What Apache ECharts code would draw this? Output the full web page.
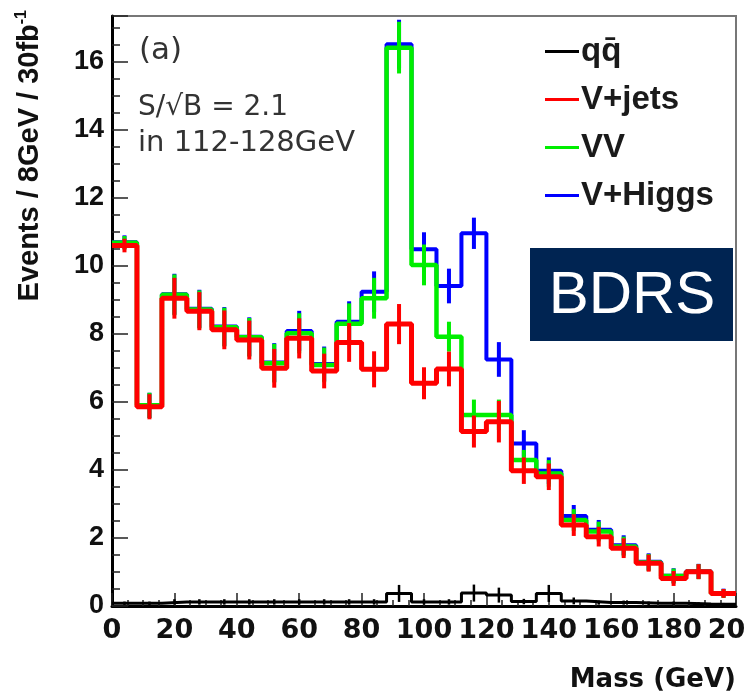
<!DOCTYPE html>
<html><head><meta charset="utf-8">
<script src="https://cdn.jsdelivr.net/npm/echarts@6/dist/echarts.min.js"></script>
<style>html,body{margin:0;padding:0;background:#fff}#c{width:744px;height:691px}</style>
</head><body><div id="c"></div>
<script>
// bin edges (GeV) and bin centres
const binEdges = [0,8,16,24,32,40,48,56,64,72,80,88,96,104,112,120,128,136,144,152,160,168,176,184,192,200];
const binCenters = [4,12,20,28,36,44,52,60,68,76,84,92,100,108,116,124,132,140,148,156,164,172,180,188,196];
// stacked levels per bin (Events / 8GeV / 30fb-1)
const qqVals    = [0.08,0.08,0.12,0.12,0.12,0.12,0.12,0.12,0.12,0.12,0.12,0.37,0.12,0.12,0.38,0.32,0.13,0.37,0.15,0.10,0.10,0.08,0.08,0.06,0.05];
const qqErr     = [0.05,0.05,0.08,0.08,0.08,0.08,0.08,0.08,0.08,0.08,0.08,0.25,0.08,0.08,0.25,0.22,0.08,0.25,0.1,0.06,0.06,0.05,0.05,0.05,0.04];
const vjetsVals = [10.6,5.86,9.05,8.67,8.12,7.82,6.99,7.87,6.91,7.75,6.96,8.29,6.55,6.97,5.13,5.42,3.98,3.80,2.38,2.04,1.70,1.26,0.81,1.01,0.37];
const vjetsErr  = [0.2,0.37,0.6,0.56,0.57,0.57,0.57,0.59,0.51,0.57,0.53,0.59,0.47,0.51,0.47,0.61,0.39,0.39,0.32,0.29,0.29,0.25,0.22,0.22,0.13];
const vvVals    = [10.68,5.9,9.15,8.72,8.2,7.9,7.14,8.02,7.09,8.3,9.05,16.42,10.03,7.92,5.62,5.62,4.29,3.9,2.53,2.19,1.75,1.28,0.88,1.01,0.37];
const vvErr     = [0.2,0.37,0.6,0.56,0.57,0.57,0.57,0.59,0.51,0.6,0.6,0.76,0.6,0.44,0.45,0.45,0.3,0.39,0.32,0.29,0.29,0.25,0.22,0.22,0.13];
const vhVals    = [10.7,5.9,9.17,8.74,8.22,7.92,7.16,8.09,7.12,8.36,9.24,16.52,10.49,9.41,10.96,7.25,4.78,3.98,2.65,2.24,1.79,1.3,0.89,1.02,0.38];
const vhErr     = [0.2,0.37,0.6,0.56,0.57,0.57,0.57,0.59,0.51,0.6,0.6,0.72,0.5,0.51,0.46,0.51,0.39,0.39,0.32,0.29,0.29,0.25,0.22,0.22,0.13];
const names = ['qq\u0304','V+jets','VV','V+Higgs'];
const colors = ['#000000','#ff0000','#00ee00','#0000ff'];

const FONT = 'Liberation Sans, Arial, sans-serif';
const WIDE = 'DejaVu Sans, sans-serif';
function stepData(vals){
  const d = vals.map((v,i)=>[binEdges[i], v]);
  d.push([binEdges[binEdges.length-1], vals[vals.length-1]]);
  return d;
}
function errData(vals, errs){ return vals.map((v,i)=>[binCenters[i], v, errs[i]]); }
function histSeries(name, vals, color, width, z){
  return {name, type:'line', step:'end', data: stepData(vals), symbol:'none', z,
    lineStyle:{color, width}, itemStyle:{color}};
}
function errSeries(vals, errs, color, width, z){
  return {type:'custom', z, data: errData(vals, errs), encode:{x:0,y:1}, clip:true,
    renderItem:function(params, api){
      const x=api.value(0), y=api.value(1), e=api.value(2);
      const p1=api.coord([x,y-e]), p2=api.coord([x,y+e]);
      return {type:'line', shape:{x1:p1[0],y1:p1[1],x2:p2[0],y2:p2[1]}, style:{stroke:color, lineWidth:width}};
    }};
}

const chart = echarts.init(document.getElementById('c'));
chart.setOption({
  animation:false,
  backgroundColor:'#fff',
  grid:{left:112, right:8, top:16, bottom:85, show:true, borderColor:'#777', borderWidth:2,
    containLabel:false, outerBoundsMode:'none'},
  xAxis:{type:'value', min:0, max:200, interval:20,
    axisLine:{lineStyle:{color:'#000', width:3}},
    axisTick:{inside:true, length:13, lineStyle:{color:'#222', width:1.5}},
    minorTick:{show:true, splitNumber:4, length:6, lineStyle:{color:'#222', width:1.5}},
    splitLine:{show:false},
    axisLabel:{fontSize:27, fontWeight:'bold', color:'#111', fontFamily:WIDE, margin:11, hideOverlap:false}},
  yAxis:{type:'value', min:0, max:17.35, interval:2,
    axisLine:{lineStyle:{color:'#000', width:3}},
    axisTick:{inside:true, length:16, lineStyle:{color:'#222', width:1.5}},
    minorTick:{show:true, splitNumber:4, length:8, lineStyle:{color:'#222', width:1.5}},
    splitLine:{show:false},
    axisLabel:{fontSize:27, fontWeight:'bold', color:'#111', fontFamily:FONT, margin:8,
      formatter:function(v){ return (Math.abs(v/2 - Math.round(v/2))<1e-6) ? String(v) : ''; }}},
  legend:{orient:'vertical', left:540, top:30, itemWidth:34, itemHeight:3, icon:'rect', itemGap:15,
    textStyle:{fontSize:33, fontWeight:'bold', color:'#1a1a1a', fontFamily:FONT, padding:[0,0,0,-3]},
    data:names},
  series:[
    histSeries(names[3], vhVals, colors[3], 4, 1),
    errSeries(vhVals, vhErr, colors[3], 4, 1),
    histSeries(names[2], vvVals, colors[2], 4.5, 2),
    errSeries(vvVals, vvErr, colors[2], 4, 2),
    histSeries(names[1], vjetsVals, colors[1], 5, 3),
    errSeries(vjetsVals, vjetsErr, colors[1], 4, 3),
    histSeries(names[0], qqVals, colors[0], 3, 4),
    errSeries(qqVals, qqErr, colors[0], 2.5, 4)
  ],
  graphic:[
    {type:'text', x:30, y:10, rotation:Math.PI/2, z:10,
      style:{text:'{m|Events / 8GeV / 30fb}{s|-1}', align:'right', verticalAlign:'middle',
        rich:{m:{fontSize:29, fontWeight:'bold', fill:'#111', fontFamily:FONT, lineHeight:32},
              s:{fontSize:16, fontWeight:'bold', fill:'#111', fontFamily:FONT, verticalAlign:'top', lineHeight:32}}}},
    {type:'text', x:736, y:680, z:10,
      style:{text:'Mass (GeV)', align:'right', verticalAlign:'middle', fontSize:26, fontWeight:'bold', fill:'#111', fontFamily:WIDE}},
    {type:'text', x:139, y:51, z:10,
      style:{text:'(a)', align:'left', verticalAlign:'middle', fontSize:31, fill:'#333', fontFamily:WIDE}},
    {type:'text', x:138, y:108, z:10,
      style:{text:'S/\u221AB = 2.1', align:'left', verticalAlign:'middle', fontSize:28, fill:'#333', fontFamily:WIDE}},
    {type:'text', x:138, y:143, z:10,
      style:{text:'in 112-128GeV', align:'left', verticalAlign:'middle', fontSize:29, fill:'#333', fontFamily:WIDE}},
    {type:'rect', z:10, shape:{x:530, y:248, width:203, height:93}, style:{fill:'#002452'}},
    {type:'text', x:632, y:296, z:11,
      style:{text:'BDRS', align:'center', verticalAlign:'middle', fontSize:60, fill:'#fff', fontFamily:FONT}}
  ]
});
</script></body></html>
